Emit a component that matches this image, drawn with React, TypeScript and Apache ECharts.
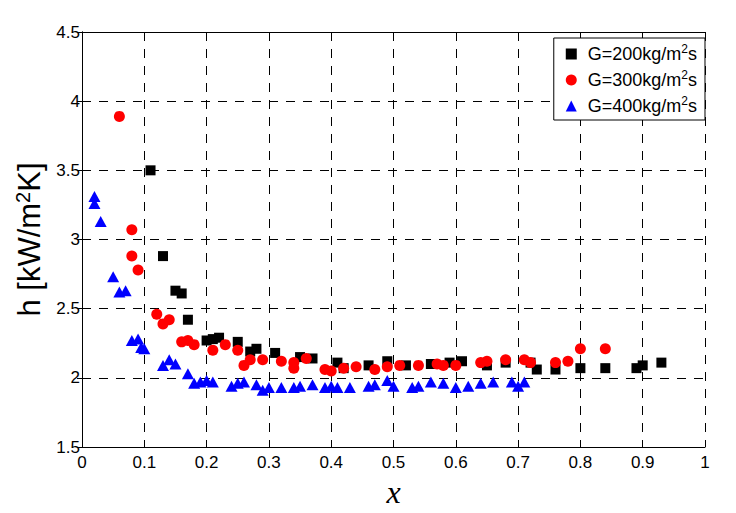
import React, { useEffect, useRef } from "react";
import * as echarts from "echarts";

// G = 200 kg/m2s  [x, h]
const g200: number[][] = [
  [0.11, 3.5], [0.13, 2.88], [0.15, 2.63], [0.16, 2.61], [0.17, 2.42],
  [0.2, 2.27], [0.21, 2.28], [0.22, 2.29], [0.25, 2.26], [0.27, 2.19],
  [0.28, 2.21], [0.31, 2.18], [0.35, 2.15], [0.37, 2.14], [0.41, 2.11],
  [0.42, 2.07], [0.46, 2.09], [0.49, 2.12], [0.52, 2.09], [0.56, 2.1],
  [0.59, 2.11], [0.61, 2.12], [0.65, 2.09], [0.68, 2.11], [0.72, 2.11],
  [0.73, 2.06], [0.76, 2.06], [0.8, 2.07], [0.84, 2.07], [0.89, 2.07],
  [0.9, 2.09], [0.93, 2.11],
];

// G = 300 kg/m2s
const g300: number[][] = [
  [0.06, 3.89], [0.08, 3.07], [0.08, 2.88], [0.09, 2.78], [0.12, 2.46],
  [0.13, 2.39], [0.14, 2.42], [0.16, 2.26], [0.17, 2.27], [0.18, 2.24],
  [0.21, 2.2], [0.23, 2.24], [0.25, 2.2], [0.26, 2.09], [0.27, 2.13],
  [0.29, 2.13], [0.32, 2.12], [0.34, 2.11], [0.34, 2.07], [0.36, 2.14],
  [0.39, 2.06], [0.4, 2.05], [0.42, 2.07], [0.44, 2.08], [0.47, 2.06],
  [0.49, 2.08], [0.51, 2.09], [0.54, 2.09], [0.57, 2.1], [0.58, 2.09],
  [0.6, 2.09], [0.64, 2.11], [0.65, 2.12], [0.68, 2.13], [0.71, 2.13],
  [0.72, 2.11], [0.76, 2.11], [0.78, 2.12], [0.8, 2.21], [0.84, 2.21],
];

// G = 400 kg/m2s
const g400: number[][] = [
  [0.02, 3.31], [0.02, 3.26], [0.03, 3.13], [0.05, 2.73], [0.06, 2.62],
  [0.07, 2.63], [0.08, 2.27], [0.09, 2.28], [0.095, 2.22], [0.1, 2.21],
  [0.13, 2.09], [0.14, 2.13], [0.15, 2.1], [0.17, 2.03], [0.18, 1.96],
  [0.19, 1.97], [0.2, 1.98], [0.21, 1.97], [0.24, 1.94], [0.25, 1.96],
  [0.26, 1.97], [0.28, 1.95], [0.29, 1.91], [0.3, 1.93], [0.32, 1.93],
  [0.34, 1.93], [0.35, 1.94], [0.37, 1.95], [0.39, 1.93], [0.4, 1.94],
  [0.41, 1.93], [0.43, 1.93], [0.46, 1.94], [0.47, 1.95], [0.49, 1.98],
  [0.5, 1.94], [0.53, 1.93], [0.54, 1.94], [0.56, 1.97], [0.58, 1.96],
  [0.6, 1.93], [0.62, 1.94], [0.64, 1.96], [0.66, 1.97], [0.69, 1.97],
  [0.7, 1.94], [0.71, 1.97],
];

const seriesNames = ["G200", "G300", "G400"];
const massFluxes = ["200", "300", "400"];

const font = "Liberation Sans, Arial, sans-serif";

const App = function () {
  const chart = useRef<HTMLDivElement>(null);

  useEffect(() => {
    if (!chart.current) return;
    const myChart = echarts.init(chart.current, null, { renderer: "svg" });

    const axisLine = { show: true, lineStyle: { color: "#000", width: 1 } };
    const tick = { show: true, inside: true, length: 5, lineStyle: { color: "#000" } };
    const grid = {
      show: true,
      lineStyle: { color: "#000", width: 1, type: [9, 8] as number[] },
    };

    const option = {
      animation: false,
      backgroundColor: "#fff",
      grid: { left: 82, right: 31, top: 32, bottom: 66 },
      legend: {
        orient: "vertical",
        right: 31,
        top: 38,
        width: 151,
        backgroundColor: "#fff",
        borderColor: "#000",
        borderWidth: 1,
        borderRadius: 0,
        padding: [5, 8, 5, 12],
        itemGap: 6,
        itemWidth: 11,
        itemHeight: 11,
        data: [
          { name: seriesNames[0], icon: "rect" },
          { name: seriesNames[1], icon: "circle" },
          { name: seriesNames[2], icon: "triangle" },
        ],
        formatter: (name: string) =>
          "{m|G=" + massFluxes[seriesNames.indexOf(name)] + "kg/m}{s|2}{m|s}",
        textStyle: {
          padding: [0, 0, 0, 6],
          rich: {
            m: { fontFamily: font, fontSize: 18, color: "#000", lineHeight: 22 },
            s: {
              fontFamily: font,
              fontSize: 12,
              color: "#000",
              lineHeight: 12,
              verticalAlign: "top",
            },
          },
        },
      },
      xAxis: [
        {
          type: "value",
          min: 0,
          max: 1,
          interval: 0.1,
          name: "x",
          nameLocation: "middle",
          nameGap: 26,
          nameTextStyle: {
            fontFamily: "Liberation Serif, Times New Roman, serif",
            fontStyle: "italic",
            fontSize: 32,
            color: "#000",
          },
          axisLine,
          axisTick: tick,
          splitLine: grid,
          axisLabel: { fontFamily: font, fontSize: 17, color: "#000", margin: 7 },
        },
        {
          type: "value",
          position: "top",
          min: 0,
          max: 1,
          interval: 0.1,
          axisLine,
          axisTick: tick,
          splitLine: { show: false },
          axisLabel: { show: false },
        },
      ],
      yAxis: [
        {
          type: "value",
          min: 1.5,
          max: 4.5,
          interval: 0.5,
          name: "{m|h [kW/m}{s|2}{m|K]}",
          nameLocation: "middle",
          nameGap: 29,
          nameTextStyle: {
            rich: {
              m: { fontFamily: font, fontSize: 31, color: "#000", lineHeight: 34 },
              s: {
                fontFamily: font,
                fontSize: 20,
                color: "#000",
                lineHeight: 20,
                verticalAlign: "top",
              },
            },
          },
          axisLine,
          axisTick: tick,
          splitLine: grid,
          axisLabel: { fontFamily: font, fontSize: 17, color: "#000", margin: 2 },
        },
        {
          type: "value",
          position: "right",
          min: 1.5,
          max: 4.5,
          interval: 0.5,
          axisLine,
          axisTick: tick,
          splitLine: { show: false },
          axisLabel: { show: false },
        },
      ],
      series: [
        {
          name: seriesNames[0],
          type: "scatter",
          symbol: "rect",
          symbolSize: 10,
          itemStyle: { color: "#000", opacity: 1 },
          data: g200,
        },
        {
          name: seriesNames[1],
          type: "scatter",
          symbol: "circle",
          symbolSize: 11,
          itemStyle: { color: "#ff0000", opacity: 1 },
          data: g300,
        },
        {
          name: seriesNames[2],
          type: "scatter",
          symbol: "triangle",
          symbolSize: [12, 11],
          itemStyle: { color: "#0000ff", opacity: 1 },
          data: g400,
        },
      ],
    };
    myChart.setOption(option as any);

    return () => {
      myChart.dispose();
    };
  }, []);

  return (
    <div
      ref={chart}
      style={{ position: "fixed", left: 0, top: 0, width: 736, height: 513 }}
    ></div>
  );
};

export default App;
